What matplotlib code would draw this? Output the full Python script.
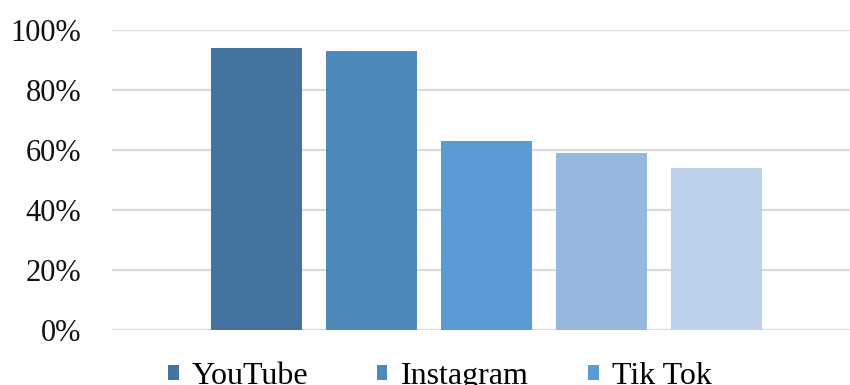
import matplotlib
matplotlib.use("Agg")
import matplotlib.pyplot as plt
from matplotlib.patches import Patch
from matplotlib.ticker import PercentFormatter

plt.rcParams["font.family"] = ["Liberation Serif", "DejaVu Serif"]

# data
platforms = ["YouTube", "Instagram", "Tik Tok", "Facebook", "Snapchat"]
shares = [94, 93, 63, 59, 54]
colors = ["#44739F", "#4F89BC", "#5B9BD5", "#97B8DE", "#BDD1EA"]

fig = plt.figure(figsize=(8.5, 3.85), dpi=100)
W, H = 850, 385
ax = fig.add_axes([112 / W, (H - 330) / H, (850 - 112) / W, 300 / H])

ax.bar(range(len(shares)), shares, width=0.79, color=colors, zorder=2)

ax.set_ylim(0, 100)
ax.set_xlim(-1.26, 5.16)
ax.set_yticks([0, 20, 40, 60, 80, 100])
ax.yaxis.set_major_formatter(PercentFormatter(decimals=0))
ax.set_xticks([])
ax.tick_params(axis="y", length=0, pad=22, labelsize=22, labelcolor="#111111")
ax.yaxis.grid(True, color="#D9D9D9", linewidth=1.6, zorder=0)
ax.set_axisbelow(True)
for s in ax.spines.values():
    s.set_visible(False)

# legend wraps row-wise over 3 columns like the original; second row falls off the bottom
handles = [Patch(facecolor=c, edgecolor="none") for c in colors]
order = [0, 3, 1, 4, 2]
fig.legend([handles[i] for i in order], [platforms[i] for i in order],
           ncol=3, loc="upper left",
           bbox_to_anchor=(168 / W, 1 - 362 / H), frameon=False,
           fontsize=23, handlelength=0.33, handleheight=0.33,
           handletextpad=0.42, columnspacing=1.88, borderaxespad=0,
           borderpad=0)

fig.savefig("out.png", dpi=100)
